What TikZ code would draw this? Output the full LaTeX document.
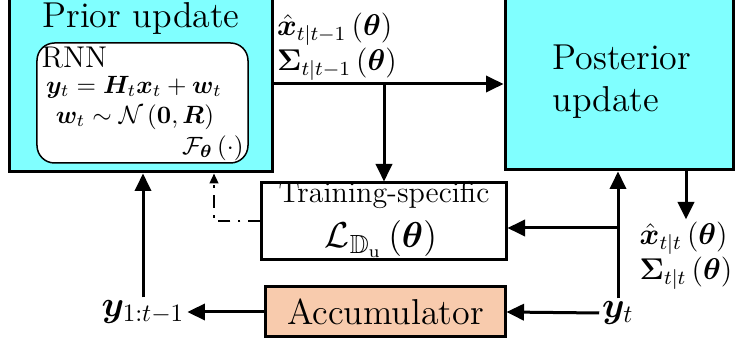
\documentclass[tikz,border=0pt]{standalone}
\usepackage{amsmath,amssymb,bm}
\usetikzlibrary{arrows.meta,positioning}
\definecolor{updcyan}{RGB}{128,255,255}
\definecolor{accpeach}{RGB}{248,203,173}

\begin{document}
\begin{tikzpicture}[
x=0.4pt,y=-0.4pt,
block/.style={draw,line width=1.2pt,inner sep=0pt},
arrow/.style={-{Triangle[length=7pt,width=6.5pt]},line width=1.2pt},
fbarrow/.style={-{Triangle[length=4pt,width=3.5pt]},line width=0.8pt,dash pattern=on 5pt off 3pt on 1pt off 3pt},
lbl/.style={font=\large,inner sep=1pt} ]

\useasboundingbox (0,0) rectangle (741,345);
\clip (0,0) rectangle (741,345);

% prior update block
\node[block,fill=updcyan,minimum width=104.8pt,minimum height=72.8pt] (prior) at (141,81) {};
\node[font=\Large,inner sep=0pt] (priortitle) at (141,19) {Prior update};
\node[draw,fill=white,line width=0.6pt,rounded corners=7pt,minimum width=84.4pt,minimum height=48pt] (rnn) at (142.5,103) {};
\node[anchor=west,inner sep=0pt,font=\large] (rnnname) at (41,58) {RNN};
\node[inner sep=0pt] (meas) at (134,87) {$\bm{y}_t=\bm{H}_t\bm{x}_t+\bm{w}_t$};
\node[inner sep=0pt] (noise) at (135,117) {$\bm{w}_t\sim\mathcal{N}\left(\bm{0},\bm{R}\right)$};
\node[anchor=east,inner sep=0pt] (fmap) at (244,148) {$\mathcal{F}_{\bm{\theta}}\left(\cdot\right)$};

% posterior update block
\node[block,fill=updcyan,minimum width=91.2pt,minimum height=72pt] (post) at (619,80) {};
\node[font=\Large,align=left,anchor=west,inner sep=0pt] (posttext) at (552,82) {Posterior\\[-1.2pt]update};

% loss and accumulator
\node[block,minimum width=97.6pt,minimum height=30.8pt] (train) at (384,221.5) {};
\node[font=\large,anchor=base,inner sep=0pt] (trainname) at (384,203) {Training-specific};
\node[font=\fontsize{15}{18}\selectfont,anchor=base,inner sep=0pt] (trainloss) at (381,248)
  {$\mathcal{L}_{\mathbb{D}_{\mathrm{u}}}\left(\bm{\theta}\right)$};
\node[block,fill=accpeach,minimum width=95.6pt,minimum height=20pt,font=\Large] (acc) at (385.5,312) {Accumulator};

% signals
\node[lbl,align=left] (xprior) at (337,47) {$\hat{\bm{x}}_{t|t-1}\left(\bm{\theta}\right)$\\$\bm{\Sigma}_{t|t-1}\left(\bm{\theta}\right)$};
\node[lbl,align=left] (xpost) at (686,256) {$\hat{\bm{x}}_{t|t}\left(\bm{\theta}\right)$\\$\bm{\Sigma}_{t|t}\left(\bm{\theta}\right)$};
\node[lbl,font=\Large] (yt) at (618,313) {$\bm{y}_t$};
\node[lbl,font=\Large] (ypast) at (143,312) {$\bm{y}_{1:t-1}$};

\coordinate (split) at (384,84);
\coordinate (tap) at (619,228);
\coordinate (fb) at (214,0);

\draw[arrow] (prior.east |- split) -- (post.west |- split);
\draw[arrow] (split) -- (train.north);
\draw[arrow] (post.south -| xpost) -- (xpost.north);
\draw[arrow] (yt) -- (yt |- post.south);
\draw[arrow] (tap) -- (train.east |- tap);
\draw[fbarrow] (train.west) -| (prior.south -| fb);
\draw[arrow] (yt.west) -- (acc.east);
\draw[arrow] (acc.west) -- (ypast.east);
\draw[arrow] (ypast) -- (ypast |- prior.south);

\end{tikzpicture}
\end{document}
